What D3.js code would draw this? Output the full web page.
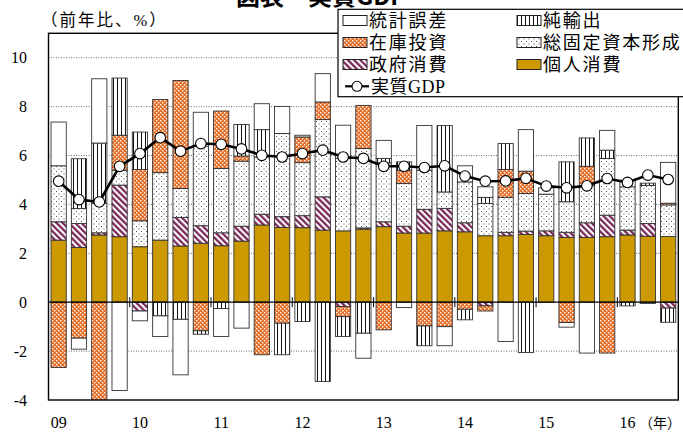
<!DOCTYPE html>
<html>
<head>
<meta charset="utf-8">
<script src="https://cdn.jsdelivr.net/npm/d3@7"></script>
<style>
  body { margin: 0; background: #fff; }
  svg { display: block; }
</style>
</head>
<body>
<svg id="chart" width="683" height="432"></svg>
<script>
// ---- data ----
const quarters = ["09Q1","09Q2","09Q3","09Q4","10Q1","10Q2","10Q3","10Q4","11Q1","11Q2","11Q3","11Q4",
  "12Q1","12Q2","12Q3","12Q4","13Q1","13Q2","13Q3","13Q4","14Q1","14Q2","14Q3","14Q4",
  "15Q1","15Q2","15Q3","15Q4","16Q1","16Q2","16Q3"];
const yearLabels = ["09","10","11","12","13","14","15","16"];
const yTicks = [-4,-2,0,2,4,6,8,10];
// 個人消費
const privCons = [2.54,2.24,2.75,2.68,2.27,2.54,2.30,2.41,2.31,2.50,3.16,3.06,3.05,2.95,2.92,2.99,
  3.09,2.83,2.83,2.92,2.88,2.72,2.72,2.77,2.72,2.65,2.65,2.68,2.75,2.70,2.69];
// 政府消費
const govCons = [0.75,0.98,0.09,2.11,-0.36,0.00,1.17,0.72,0.53,0.61,0.44,0.44,0.49,1.36,-0.18,0.05,
  0.20,0.28,0.97,0.92,0.37,-0.15,0.14,0.14,0.20,0.21,0.60,0.88,0.20,0.52,-0.24];
// 総固定資本形成
const gfcf = [2.29,0.61,1.20,0.61,1.06,2.76,1.18,3.25,2.63,2.66,2.34,3.40,2.17,3.16,2.96,3.25,
  2.41,1.75,1.60,0.67,1.67,1.32,1.43,1.54,1.50,1.25,1.51,2.32,1.77,1.56,1.29];
// 在庫投資
const inventory = [-2.67,-1.47,-4.10,1.43,2.10,2.99,4.42,-1.17,2.35,0.21,-2.15,-0.86,1.05,0.72,-0.41,1.76,
  -1.13,0.54,-0.97,-1.00,-0.29,-0.21,1.14,0.91,0.00,-0.83,0.80,-2.08,0.00,0.00,0.07];
// 純輸出
const netExports = [0.00,2.04,2.47,2.34,1.53,-0.56,-0.70,-0.14,-0.26,1.29,1.12,-1.29,-0.79,-3.24,-0.81,-1.27,
  0.18,0.34,-0.81,2.72,-0.43,0.25,1.06,-2.06,0.00,1.63,1.16,0.34,-0.15,0.09,-0.58];
// 統計誤差
const statError = [1.79,-0.45,2.63,-3.61,-0.40,-0.84,-2.27,1.39,-1.14,-1.06,1.06,1.11,0.07,1.16,1.36,-1.02,
  0.74,-0.22,1.83,-0.78,0.66,0.43,-1.61,1.70,0.26,-0.19,-2.08,0.81,0.27,-0.05,1.67];
// 実質GDP
const realGDP = [4.95,4.20,4.10,5.56,6.08,6.73,6.18,6.49,6.46,6.27,6.01,5.94,6.08,6.22,5.94,5.88,
  5.56,5.56,5.51,5.58,5.16,4.95,4.96,5.07,4.75,4.68,4.76,5.06,4.90,5.20,5.02];

const series = [
  {key:"pc",   name:"個人消費",       values: privCons,   fill:"#CC9900"},
  {key:"gc",   name:"政府消費",       values: govCons,    fill:"url(#pStripe)"},
  {key:"gfcf", name:"総固定資本形成", values: gfcf,       fill:"url(#pDots)"},
  {key:"inv",  name:"在庫投資",       values: inventory,  fill:"url(#pCheck)"},
  {key:"nx",   name:"純輸出",         values: netExports, fill:"url(#pVert)"},
  {key:"err",  name:"統計誤差",       values: statError,  fill:"#ffffff"}
];

// ---- layout ----
const svg = d3.select("#chart");
const L = 48.5, R = 678.3, T = 33.3, B = 400;
const serif = "'Liberation Serif','Times New Roman',serif";
const jp = "'Liberation Serif','Noto Sans CJK JP',serif";

const table = quarters.map((q,i) => {
  const o = {q};
  series.forEach(s => o[s.key] = s.values[i]);
  return o;
});

const x = d3.scaleBand().domain(quarters).range([L, R]).paddingInner(0.25).paddingOuter(0.125);
const y = d3.scaleLinear().domain([-4, 11]).range([B, T]);

// ---- patterns ----
const defs = svg.append("defs");
const pc = defs.append("pattern").attr("id","pCheck").attr("patternUnits","userSpaceOnUse")
  .attr("width",4).attr("height",4);
pc.append("rect").attr("width",4).attr("height",4).attr("fill","#E8702A");
pc.append("rect").attr("x",0).attr("y",0).attr("width",1.4).attr("height",1.4).attr("fill","#fff");
pc.append("rect").attr("x",2).attr("y",2).attr("width",1.4).attr("height",1.4).attr("fill","#fff");

const ps = defs.append("pattern").attr("id","pStripe").attr("patternUnits","userSpaceOnUse")
  .attr("width",4.4).attr("height",4.4).attr("patternTransform","rotate(-45)");
ps.append("rect").attr("width",4.4).attr("height",4.4).attr("fill","#fff");
ps.append("rect").attr("x",0).attr("width",2.3).attr("height",4.4).attr("fill","#7A2858");

const pd = defs.append("pattern").attr("id","pDots").attr("patternUnits","userSpaceOnUse")
  .attr("width",5).attr("height",5);
pd.append("rect").attr("width",5).attr("height",5).attr("fill","#fff");
pd.append("rect").attr("x",1).attr("y",1).attr("width",1).attr("height",1).attr("fill","#555");
pd.append("rect").attr("x",3.5).attr("y",3.5).attr("width",1).attr("height",1).attr("fill","#555");

const pv = defs.append("pattern").attr("id","pVert").attr("patternUnits","userSpaceOnUse")
  .attr("width",4).attr("height",4);
pv.append("rect").attr("width",4).attr("height",4).attr("fill","#fff");
pv.append("rect").attr("x",1).attr("width",1).attr("height",4).attr("fill","#111");

defs.append("clipPath").attr("id","plotClip").append("rect")
  .attr("x",L).attr("y",T).attr("width",R-L).attr("height",B-T);

// ---- title (mostly off canvas, partly covered by legend) ----
svg.append("text").attr("x",236).attr("y",5)
  .attr("font-family","'Noto Sans CJK JP',sans-serif").attr("font-weight","bold")
  .attr("font-size",24).text("図表　実質GDP");

// ---- gridlines ----
svg.append("g").selectAll("line").data(yTicks.filter(t => t !== 0 && t !== -4)).join("line")
  .attr("x1",L).attr("x2",R).attr("y1",d=>y(d)).attr("y2",d=>y(d))
  .attr("stroke","#444").attr("stroke-width",0.8).attr("stroke-dasharray","1,1.5");

// ---- bars ----
const stack = d3.stack().keys(series.map(s=>s.key)).offset(d3.stackOffsetDiverging);
const stacked = stack(table);
const gBars = svg.append("g").attr("clip-path","url(#plotClip)");
stacked.forEach((layer, li) => {
  gBars.append("g").selectAll("rect").data(layer.filter(d => d[1] !== d[0])).join("rect")
    .attr("x", d => x(d.data.q))
    .attr("width", x.bandwidth())
    .attr("y", d => y(Math.max(d[0], d[1])))
    .attr("height", d => Math.abs(y(d[0]) - y(d[1])))
    .attr("fill", series[li].fill)
    .attr("stroke", "#333").attr("stroke-width", 0.9);
});

// ---- zero line and year ticks ----
svg.append("line").attr("x1",L).attr("x2",R).attr("y1",y(0)).attr("y2",y(0))
  .attr("stroke","#000").attr("stroke-width",1.3);
const step = x.step();
svg.append("g").selectAll("line").data(d3.range(4, quarters.length, 4)).join("line")
  .attr("x1", i => x(quarters[i]) - step*0.125).attr("x2", i => x(quarters[i]) - step*0.125)
  .attr("y1", y(0)-5).attr("y2", y(0)+5).attr("stroke","#000").attr("stroke-width",1);

// ---- GDP line ----
const line = d3.line().x((d,i) => x(quarters[i]) + x.bandwidth()/2).y(d => y(d));
svg.append("path").datum(realGDP).attr("d", line).attr("fill","none")
  .attr("stroke","#000").attr("stroke-width",2.6);
svg.append("g").selectAll("circle").data(realGDP).join("circle")
  .attr("cx",(d,i) => x(quarters[i]) + x.bandwidth()/2).attr("cy", d => y(d))
  .attr("r",5.3).attr("fill","#fff").attr("stroke","#000").attr("stroke-width",1.1);

// ---- frame ----
svg.append("rect").attr("x",L).attr("y",T).attr("width",R-L).attr("height",B-T)
  .attr("fill","none").attr("stroke","#000").attr("stroke-width",1.4);

// ---- axis labels ----
svg.append("g").selectAll("text").data(yTicks).join("text")
  .attr("x",27).attr("y",d=>y(d)+5.5).attr("text-anchor","end")
  .attr("font-family",serif).attr("font-size",16).text(d=>d);
svg.append("g").selectAll("text").data(yearLabels).join("text")
  .attr("x",(d,i) => x(quarters[i*4]) + x.bandwidth()/2).attr("y",428)
  .attr("text-anchor","middle").attr("font-family",serif).attr("font-size",16).text(d=>d);
svg.append("text").attr("x",639).attr("y",428).attr("font-family",jp).attr("font-size",14).text("（年）");
svg.append("text").attr("x",41).attr("y",26).attr("font-family",jp).attr("font-size",16.5)
  .attr("letter-spacing",2).text("（前年比、%）");

// ---- legend ----
const lg = svg.append("g");
lg.append("rect").attr("x",338).attr("y",9.3).attr("width",360).attr("height",87.4)
  .attr("fill","#fff").attr("stroke","#000").attr("stroke-width",1.2);
const legendItems = [
  {col:0,row:0,name:"統計誤差",fill:"#ffffff"},
  {col:0,row:1,name:"在庫投資",fill:"url(#pCheck)"},
  {col:0,row:2,name:"政府消費",fill:"url(#pStripe)"},
  {col:1,row:0,name:"純輸出",fill:"url(#pVert)"},
  {col:1,row:1,name:"総固定資本形成",fill:"url(#pDots)"},
  {col:1,row:2,name:"個人消費",fill:"#CC9900"}
];
const colX = [343, 517], rowY = [20.5, 42.5, 64.5, 86.3];
legendItems.forEach(it => {
  lg.append("rect").attr("x",colX[it.col]).attr("y",rowY[it.row]-5).attr("width",24).attr("height",10)
    .attr("fill",it.fill).attr("stroke","#222").attr("stroke-width",1);
  lg.append("text").attr("x",colX[it.col]+26).attr("y",rowY[it.row]+6.5)
    .attr("font-family",jp).attr("font-size",18).attr("letter-spacing",1.8).text(it.name);
});
lg.append("line").attr("x1",345).attr("x2",369).attr("y1",rowY[3]).attr("y2",rowY[3])
  .attr("stroke","#000").attr("stroke-width",2.2);
lg.append("circle").attr("cx",357).attr("cy",rowY[3]).attr("r",5).attr("fill","#fff")
  .attr("stroke","#000").attr("stroke-width",1.1);
lg.append("text").attr("x",371).attr("y",rowY[3]+6.5).attr("font-family",jp).attr("font-size",18)
  .attr("letter-spacing",0.5).text("実質GDP");
</script>
</body>
</html>
